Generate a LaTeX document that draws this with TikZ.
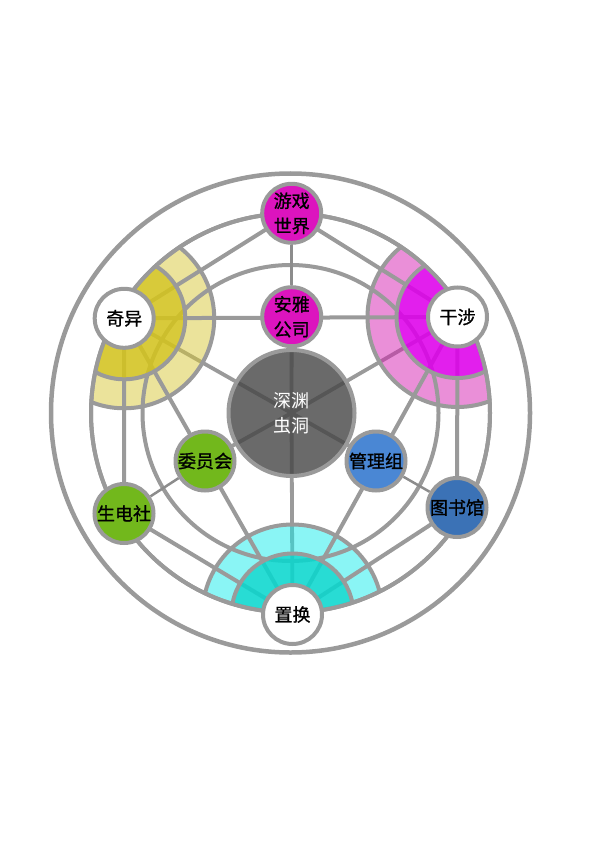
\documentclass[tikz,border=0pt]{standalone}
\usepackage{fontspec}
\newfontfamily\cjk[FakeBold=1.0]{Noto Sans CJK SC}
\newfontfamily\cjkr{Noto Sans CJK SC}
\definecolor{lg}{RGB}{154,154,154}
\definecolor{thing}{RGB}{140,140,140}
\definecolor{mag}{RGB}{220,20,190}
\definecolor{grn}{RGB}{114,184,28}
\definecolor{blu}{RGB}{74,135,212}
\definecolor{bluD}{RGB}{59,114,182}
\definecolor{yB}{RGB}{215,199,55}
\definecolor{pB}{RGB}{213,31,177}
\definecolor{cB}{RGB}{22,236,236}
\definecolor{yD}{RGB}{211,195,31}
\definecolor{pD}{RGB}{222,0,234}
\definecolor{cD}{RGB}{10,215,206}
\definecolor{core}{RGB}{69,69,69}
\pgfdeclarelayer{spk}
\pgfdeclarelayer{lite}
\pgfdeclarelayer{lns}
\pgfdeclarelayer{dark}
\pgfdeclarelayer{brd}
\pgfsetlayers{spk,lite,lns,dark,brd,main}
\begin{document}
\begin{tikzpicture}[x=1pt,y=-1pt,
  ln/.style={draw=lg,line width=4pt},
  thinln/.style={draw=thing,line width=2.5pt},
  nd/.style={circle,draw=lg,line width=4pt,minimum size=59pt,inner sep=0pt,align=center,font=\cjk\fontsize{18}{25}\selectfont},
]
\useasboundingbox (0,0) rectangle (595,842);
\coordinate (O) at (290.5,413);
% nodes
\node[nd,fill=mag] (Y) at (291.7,213.3) {游戏\\世界};
\node[nd,fill=mag] (A) at (291.7,316.7) {安雅\\公司};
\node[nd,fill=white] (Q) at (124.2,318.3) {奇异};
\node[nd,fill=white] (G) at (457.5,317) {干涉};
\node[nd,fill=white] (Z) at (292.5,614.5) {置换};
\node[nd,fill=grn] (W) at (205,461) {委员会};
\node[nd,fill=grn] (S) at (124,513.5) {生电社};
\node[nd,fill=blu] (M) at (376,461) {管理组};
\node[nd,fill=bluD] (T) at (457,507.5) {图书馆};
\node[nd,minimum size=126pt,fill=core,fill opacity=0.8,text opacity=1,text=white,font=\cjkr\fontsize{18}{25}\selectfont] (C) at (291.5,413) {深渊\\虫洞};
% spokes
\begin{pgfonlayer}{spk}
\foreach \n in {Q,G,Z,A,W,M} \draw[ln,line width=3.8pt] (C.center) -- (\n.center);
\end{pgfonlayer}
% light rings
\begin{pgfonlayer}{lite}
\begin{scope}
\clip (O) circle (199.5pt);
\fill[yB,fill opacity=.5,even odd rule] (Q.center) circle (90pt) (Q.center) circle (61pt);
\fill[pB,fill opacity=.5,even odd rule] (G.center) circle (90pt) (G.center) circle (61pt);
\fill[cB,fill opacity=.5,even odd rule] (Z.center) circle (90pt) (Z.center) circle (61pt);
\end{scope}
\end{pgfonlayer}
% lines
\begin{pgfonlayer}{lns}
\draw[ln] (O) circle (148pt);
\draw[ln] (O) circle (199.5pt);
\draw[ln,line width=4.5pt] (O) circle (239.5pt);
\draw[ln] (Y.center) -- (Q.center);
\draw[ln] (Q.center) -- (S.center);
\draw[ln] (S.center) -- (Z.center);
\draw[ln] (Z.center) -- (T.center);
\draw[ln] (T.center) -- (G.center);
\draw[ln] (G.center) -- (Y.center);
\draw[ln] (Q.center) -- (G.center);
\draw[ln] (G.center) -- (Z.center);
\draw[ln] (Z.center) -- (Q.center);
\draw[thinln] (Y) -- (A);
\draw[thinln] (W) -- (S);
\draw[thinln] (M) -- (T);
\end{pgfonlayer}
% dark sectors
\begin{pgfonlayer}{dark}
\begin{scope}
\clip (O) circle (199.5pt);
\fill[yD,fill opacity=.88] (Q.center) circle (61pt);
\fill[pD,fill opacity=.88] (G.center) circle (61pt);
\fill[cD,fill opacity=.88] (Z.center) circle (61pt);
\end{scope}
\end{pgfonlayer}
% borders
\begin{pgfonlayer}{brd}
\begin{scope}
\clip (O) circle (199.5pt);
\draw[ln] (Q.center) circle (61pt) (Q.center) circle (90pt);
\draw[ln] (G.center) circle (61pt) (G.center) circle (90pt);
\draw[ln] (Z.center) circle (61pt) (Z.center) circle (90pt);
\end{scope}
\draw[ln] (O) circle (199.5pt);
\end{pgfonlayer}
\end{tikzpicture}
\end{document}
